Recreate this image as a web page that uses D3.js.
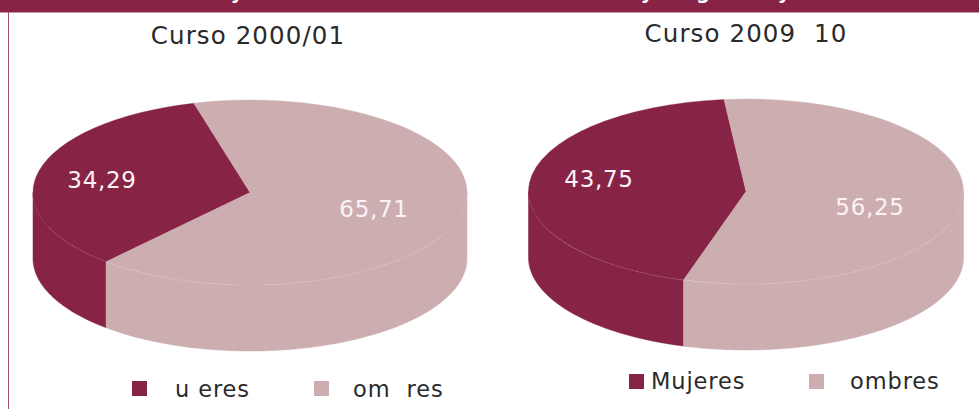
<!DOCTYPE html>
<html><head><meta charset="utf-8">
<script src="https://cdn.jsdelivr.net/npm/d3@7/dist/d3.min.js"></script>
<style>html,body{margin:0;padding:0;background:#fff}svg{display:block}
text{font-family:"DejaVu Sans",sans-serif;white-space:pre}</style></head>
<body><svg id="c" width="979" height="409"></svg>
<script>
const courses = ["Curso 2000/01", "Curso 2009  10"];
const womenValues = [34.29, 43.75];
const menValues = [65.71, 56.25];
const valueLabels = [["34,29", "65,71"], ["43,75", "56,25"]];
const legendLabels = [["u eres", "om  res"], ["Mujeres", "ombres"]];
const startDegrees = [-15, -5.8];
const titleDescenders = ["y", "y", "g", "y"];

const DARK = "#872345", LIGHT = "#ccadb0", INK = "#2a2a2a";
const svg = d3.select("#c");
const rad = d => d * Math.PI / 180;

// header band and frame
svg.append("rect").attr("x", 0).attr("y", 0).attr("width", 979).attr("height", 12).attr("fill", DARK);
svg.append("rect").attr("x", 0).attr("y", 12).attr("width", 979).attr("height", 1).attr("fill", "#c59aa9");
svg.append("rect").attr("x", 8).attr("y", 12).attr("width", 1).attr("height", 397).attr("fill", "#a44f6f");
const descX = [237, 647, 703, 784];
titleDescenders.forEach((t, i) => svg.append("text").attr("x", descX[i]).attr("y", -1)
  .attr("text-anchor", "middle").attr("font-size", 19).attr("font-weight", "bold").attr("fill", "#fff").text(t));

const layouts = [
  {cx: 250, cy: 192.5, rx: 217, ry: 92.5, depth: 66, title: [248, 44], lab: [[102, 188], [374, 217]], leg: [[132, 381], [314, 381]], legText: [[175, 397], [353, 397]]},
  {cx: 746, cy: 191.5, rx: 217.5, ry: 92.5, depth: 66, title: [746, 42], lab: [[599, 187], [870, 215]], leg: [[629, 374], [809, 374]], legText: [[651, 389], [850, 389]]}
];

function wallPath(L, a0, a1) {
  // a0,a1 in radians clockwise from the top; only the front half shows
  const lo = Math.max(a0, Math.PI / 2), hi = Math.min(a1, 3 * Math.PI / 2);
  if (hi <= lo) return null;
  const t = d3.range(lo, hi, 0.01).concat([hi]);
  const px = a => L.cx + L.rx * Math.sin(a), py = a => L.cy - L.ry * Math.cos(a);
  return d3.area().x(px).y0(py).y1(a => py(a) + L.depth)(t);
}

layouts.forEach((L, k) => {
  const vals = [womenValues[k], menValues[k]];
  const colors = [DARK, LIGHT];
  const start = rad(startDegrees[k]);
  // women run anti-clockwise from the start angle, men clockwise
  const first = start - 2 * Math.PI * vals[0] / 100;
  const pie = d3.pie().sort(null).startAngle(first).endAngle(first + 2 * Math.PI);
  const arcs = pie(vals);
  const g = svg.append("g");

  // side wall
  arcs.forEach((d, i) => {
    [0, 2 * Math.PI].forEach(off => {
      const p = wallPath(L, d.startAngle + off, d.endAngle + off);
      if (p) g.append("path").attr("d", p).attr("fill", colors[i]).attr("stroke", colors[i]).attr("stroke-width", 0.5);
    });
  });

  // top face: a circular d3.arc squashed into an ellipse
  const arc = d3.arc().innerRadius(0).outerRadius(L.rx);
  const top = g.append("g").attr("transform", `translate(${L.cx},${L.cy}) scale(1,${L.ry / L.rx})`);
  top.selectAll("path").data(arcs).join("path").attr("d", arc).attr("fill", (d, i) => colors[i])
    .attr("stroke", (d, i) => colors[i]).attr("stroke-width", 0.5);

  // faint rim on the front of the top face
  const rim = d3.range(rad(111), rad(248), 0.01);
  g.append("path").attr("fill", "none").attr("stroke", "#fff").attr("stroke-opacity", 0.28).attr("stroke-width", 0.7)
    .attr("stroke-dasharray", "2 1.5")
    .attr("d", d3.line().x(a => L.cx + L.rx * Math.sin(a)).y(a => L.cy - L.ry * Math.cos(a))(rim));

  // faint seams on the front wall
  [-33, -18, -2, 15, 34].forEach(dx => {
    const y0 = L.cy + L.ry * Math.sqrt(1 - (dx / L.rx) ** 2);
    g.append("line").attr("x1", L.cx + dx).attr("x2", L.cx + dx).attr("y1", y0).attr("y2", y0 + L.depth - 1)
      .attr("stroke", "#fff").attr("stroke-opacity", 0.08);
  });

  svg.append("text").attr("x", L.title[0]).attr("y", L.title[1]).attr("text-anchor", "middle")
    .attr("font-size", 24.5).attr("letter-spacing", 1.1).attr("fill", INK).text(courses[k]);

  valueLabels[k].forEach((t, i) => svg.append("text").attr("x", L.lab[i][0]).attr("y", L.lab[i][1])
    .attr("text-anchor", "middle").attr("font-size", 23).attr("letter-spacing", 0.7).attr("fill", "#fbf3f5").text(t));

  legendLabels[k].forEach((t, i) => {
    svg.append("rect").attr("x", L.leg[i][0]).attr("y", L.leg[i][1]).attr("width", 15).attr("height", 15).attr("fill", colors[i]);
    svg.append("text").attr("x", L.legText[i][0]).attr("y", L.legText[i][1]).attr("font-size", 22.5)
      .attr("letter-spacing", 0.9).attr("fill", INK).text(t);
  });
});
</script></body></html>
